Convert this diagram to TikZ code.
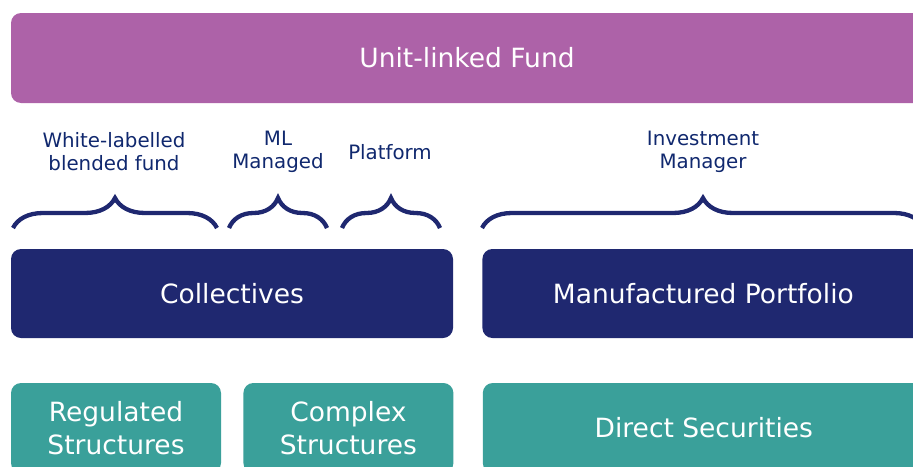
\documentclass[tikz,border=0pt]{standalone}
\usepackage{fontspec}
\setmainfont{DejaVu Sans}
\usepackage{xcolor}
\usepackage{tikz}
\usetikzlibrary{positioning,decorations.pathreplacing}

\definecolor{fundpurple}{RGB}{173,98,168}
\definecolor{navy}{RGB}{31,40,112}
\definecolor{labelblue}{RGB}{16,40,110}
\definecolor{teal}{RGB}{58,160,154}

\begin{document}
\begin{tikzpicture}[
    x=1pt, y=-1pt,
    block/.style = {rounded corners=10pt, inner sep=0pt, text=white,
                    font=\fontsize{26.5}{33}\selectfont, align=center},
    fundbox/.style = {block, fill=fundpurple, minimum height=90pt},
    layerbox/.style = {block, fill=navy, minimum height=89pt},
    basebox/.style = {block, fill=teal, minimum height=90pt},
    tag/.style = {text=labelblue, align=center, inner sep=0pt,
                  font=\fontsize{19.8}{23}\selectfont},
    bracket/.style = {draw=navy, line width=4.3pt,
                      decorate, decoration={brace, amplitude=30pt}}
  ]
  \clip (0,0) rectangle (913,466);

  % top layer
  \node (fund) [fundbox, minimum width=912pt] at (467,58) {Unit-linked Fund};

  % middle layer
  \node (coll) [layerbox, minimum width=442pt] at (232,293.5) {Collectives};
  \node (manu) [layerbox, minimum width=442pt, right=29pt of coll] {Manufactured Portfolio};

  % bottom layer
  \node (reg) [basebox, minimum width=210pt] at (116,428) {Regulated\\Structures};
  \node (cplx) [basebox, minimum width=210pt, right=22pt of reg] {Complex\\Structures};
  \node (direct) [basebox, minimum width=442pt, right=29pt of cplx] {Direct Securities};

  % labels over the collectives
  \node (wlab) [tag] at (114,152) {White-labelled\\blended fund};
  \node (mlm) [tag] at (278,152) {ML\\Managed};
  \node (plat) [tag] at (390,152) {Platform};
  \node (invm) [tag] at (703,152) {Investment\\Manager};

  % braces
  \coordinate (wlabL) at (13,228);
  \coordinate (wlabR) at (217,228);
  \coordinate (mlmL) at (229,228);
  \coordinate (mlmR) at (327,228);
  \coordinate (platL) at (342,228);
  \coordinate (platR) at (440,228);
  \coordinate (invmL) at (482,228);
  \coordinate (invmR) at (924,228);

  \draw[bracket] (wlabL) -- (wlabR);
  \draw[bracket] (mlmL) -- (mlmR);
  \draw[bracket] (platL) -- (platR);
  \draw[bracket] (invmL) -- (invmR);
\end{tikzpicture}
\end{document}
